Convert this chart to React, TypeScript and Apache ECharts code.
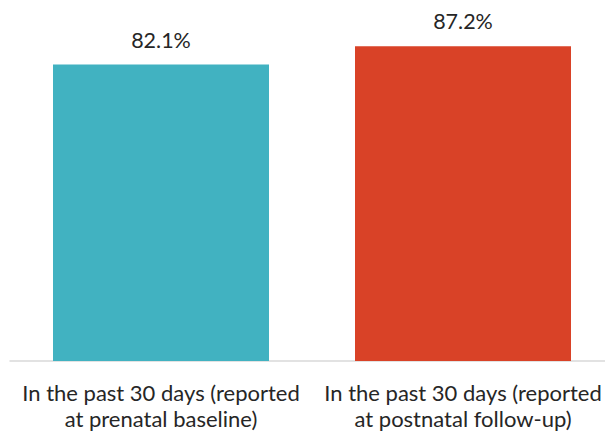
import React, { useEffect, useRef } from "react";
import * as echarts from "echarts";

const categories = [
  "In the past 30 days (reported\nat prenatal baseline)",
  "In the past 30 days (reported\nat postnatal follow-up)",
];
const values = [82.1, 87.2];
const barColors = ["#41B2C1", "#D94227"];

export default function App() {
  const ref = useRef<HTMLDivElement>(null);
  useEffect(() => {
    if (!ref.current) return;
    const chart = echarts.init(ref.current, null, { renderer: "svg" });
    chart.setOption({
      animation: false,
      grid: { left: 10, right: 0, top: 0, bottom: 72, containLabel: false, outerBoundsMode: "none" },
      xAxis: {
        type: "category",
        data: categories,
        axisLine: { lineStyle: { color: "#D9D9D9", width: 1.5 } },
        axisTick: { show: false },
        axisLabel: {
          color: "#262626",
          fontFamily: "Lato",
          fontSize: 22,
          lineHeight: 26,
          margin: 18,
          interval: 0,
        },
      },
      yAxis: {
        type: "value",
        min: 0,
        max: 100,
        show: false,
        splitLine: { show: false },
      },
      series: [
        {
          type: "bar",
          data: values.map((v, i) => ({ value: v, itemStyle: { color: barColors[i] } })),
          barWidth: 216,
          label: {
            show: true,
            position: "top",
            distance: 14,
            formatter: (p: any) => p.value.toFixed(1) + "%",
            color: "#262626",
            fontFamily: "Lato",
            fontSize: 21.5,
          },
        },
      ],
    });
    return () => chart.dispose();
  }, []);
  return (
    <div style={{ width: 605, height: 433, position: "absolute", left: 0, top: 0, overflow: "hidden" }}>
      <div ref={ref} style={{ width: 614, height: 433 }} />
    </div>
  );
}
